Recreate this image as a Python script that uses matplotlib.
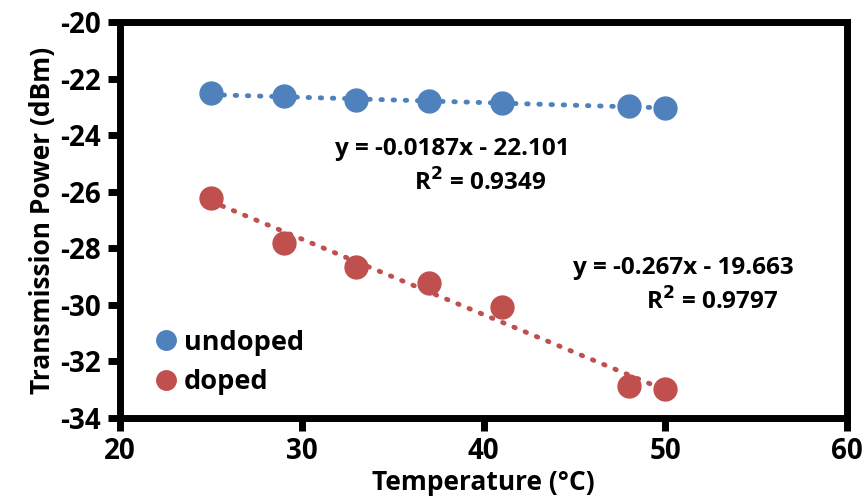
import numpy as np
import matplotlib.pyplot as plt

plt.rcParams['font.family'] = ['Open Sans', 'DejaVu Sans']
plt.rcParams['font.weight'] = 'bold'
plt.rcParams['axes.labelweight'] = 'bold'
plt.rcParams['axes.unicode_minus'] = False

# measured transmission power vs temperature
temperature = [25, 29, 33, 37, 41, 48, 50]
undoped = [-22.50, -22.62, -22.74, -22.80, -22.86, -22.96, -23.03]
doped = [-26.22, -27.80, -28.66, -29.22, -30.07, -32.88, -32.97]

# linear fits
undoped_fit = (-0.0187, -22.101, 0.9349)
doped_fit = (-0.267, -19.663, 0.9797)

blue = '#4F81BD'
red = '#C0504D'

fig = plt.figure(figsize=(8.64, 5.04), dpi=100)
ax = fig.add_axes([120/864, 1-418/504, (847-120)/864, (418-22)/504])

x = np.array(temperature, dtype=float)
for (slope, icpt, r2), col in [(undoped_fit, blue), (doped_fit, red)]:
    ax.plot(x, slope*x + icpt, color=col, lw=3.5, ls=(0, (0.3, 2.2)),
            dash_capstyle='round', zorder=2)

ax.plot(temperature, undoped, 'o', color=blue, ms=16.5, label='undoped', zorder=3)
ax.plot(temperature, doped, 'o', color=red, ms=16.5, label='doped', zorder=3)

fs = 17.5
ax.text(38.27, -24.49, 'y = -0.0187x - 22.101', ha='center', va='center', fontsize=fs)
ax.text(39.8, -25.69, 'R$^\\mathbf{2}$ = 0.9349', ha='center', va='center', fontsize=fs)
ax.text(51.0, -28.70, 'y = -0.267x - 19.663', ha='center', va='center', fontsize=fs)
ax.text(52.6, -29.90, 'R$^\\mathbf{2}$ = 0.9797', ha='center', va='center', fontsize=fs)

ax.set_xlim(20, 60)
ax.set_ylim(-34, -20)
ax.set_xticks([20, 30, 40, 50, 60])
ax.set_yticks(np.arange(-34, -19, 2))
for s in ax.spines.values():
    s.set_linewidth(5)
ax.tick_params(direction='out', length=9, width=5, labelsize=20, pad=5)
for lbl in ax.get_xticklabels() + ax.get_yticklabels():
    lbl.set_fontweight('bold')

ax.set_xlabel('Temperature (°C)', fontsize=19, labelpad=2)
ax.set_ylabel('Transmission Power (dBm)', fontsize=19, labelpad=3)

ax.legend(loc='lower left', bbox_to_anchor=(0.015, 0.01), frameon=False, fontsize=19.5,
          handletextpad=0.05, labelspacing=0.5, borderaxespad=0.3, handlelength=1.2,
          markerscale=0.85)

fig.savefig('out.png', dpi=100)
